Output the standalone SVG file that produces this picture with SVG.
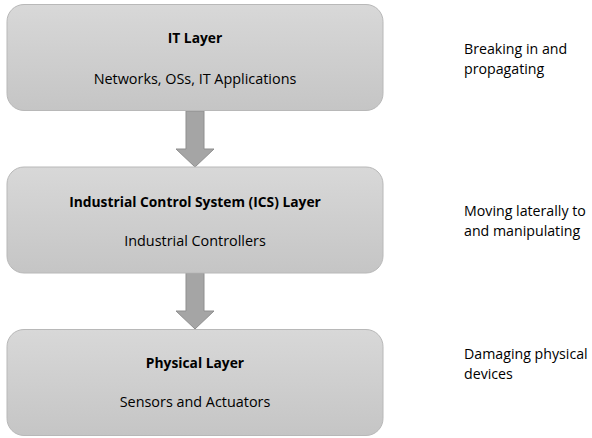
<svg xmlns="http://www.w3.org/2000/svg" width="592" height="438" viewBox="0 0 592 438">
<defs>
<linearGradient id="g" x1="0" y1="0" x2="0" y2="1">
<stop offset="0" stop-color="#d8d8d8"/>
<stop offset="1" stop-color="#c5c5c5"/>
</linearGradient>
<style>
.box{fill:url(#g);stroke:#b8b8b8;stroke-width:1}
.t{font-family:"Open Sans","Liberation Sans",sans-serif;font-size:14.4px;fill:#000;text-anchor:middle}
.b{font-weight:bold;font-size:13.8px}
.s{font-family:"Open Sans","Liberation Sans",sans-serif;font-size:14.2px;fill:#000}
.arr{fill:#a5a5a5;stroke:#8f8f8f;stroke-width:1}
</style>
</defs>
<rect width="592" height="438" fill="#fff"/>
<g id="connectors">
<path class="arr" d="M186,111 L204,111 L204,149 L214,149 L195,167 L176,149 L186,149 Z"/>
<path class="arr" d="M186,273 L204,273 L204,311 L214,311 L195,329 L176,311 L186,311 Z"/>
</g>
<g id="it-layer">
<rect class="box" x="7" y="4.5" width="376" height="106" rx="17"/>
<text class="t b" x="195" y="43">IT Layer</text>
<text class="t" x="195" y="84">Networks, OSs, IT Applications</text>
</g>
<g id="ics-layer">
<rect class="box" x="7" y="167" width="376" height="106" rx="17"/>
<text class="t b" x="195" y="206.5">Industrial Control System (ICS) Layer</text>
<text class="t" x="195" y="245.5">Industrial Controllers</text>
</g>
<g id="physical-layer">
<rect class="box" x="7" y="329.5" width="376" height="106" rx="17"/>
<text class="t b" x="195" y="368">Physical Layer</text>
<text class="t" x="195" y="407">Sensors and Actuators</text>
</g>
<g id="annotations">
<text class="s" x="464" y="54">Breaking in and</text>
<text class="s" x="464" y="74">propagating</text>
<text class="s" x="464" y="216">Moving laterally to</text>
<text class="s" x="464" y="236">and manipulating</text>
<text class="s" x="464" y="359">Damaging physical</text>
<text class="s" x="464" y="379">devices</text>
</g>
</svg>
